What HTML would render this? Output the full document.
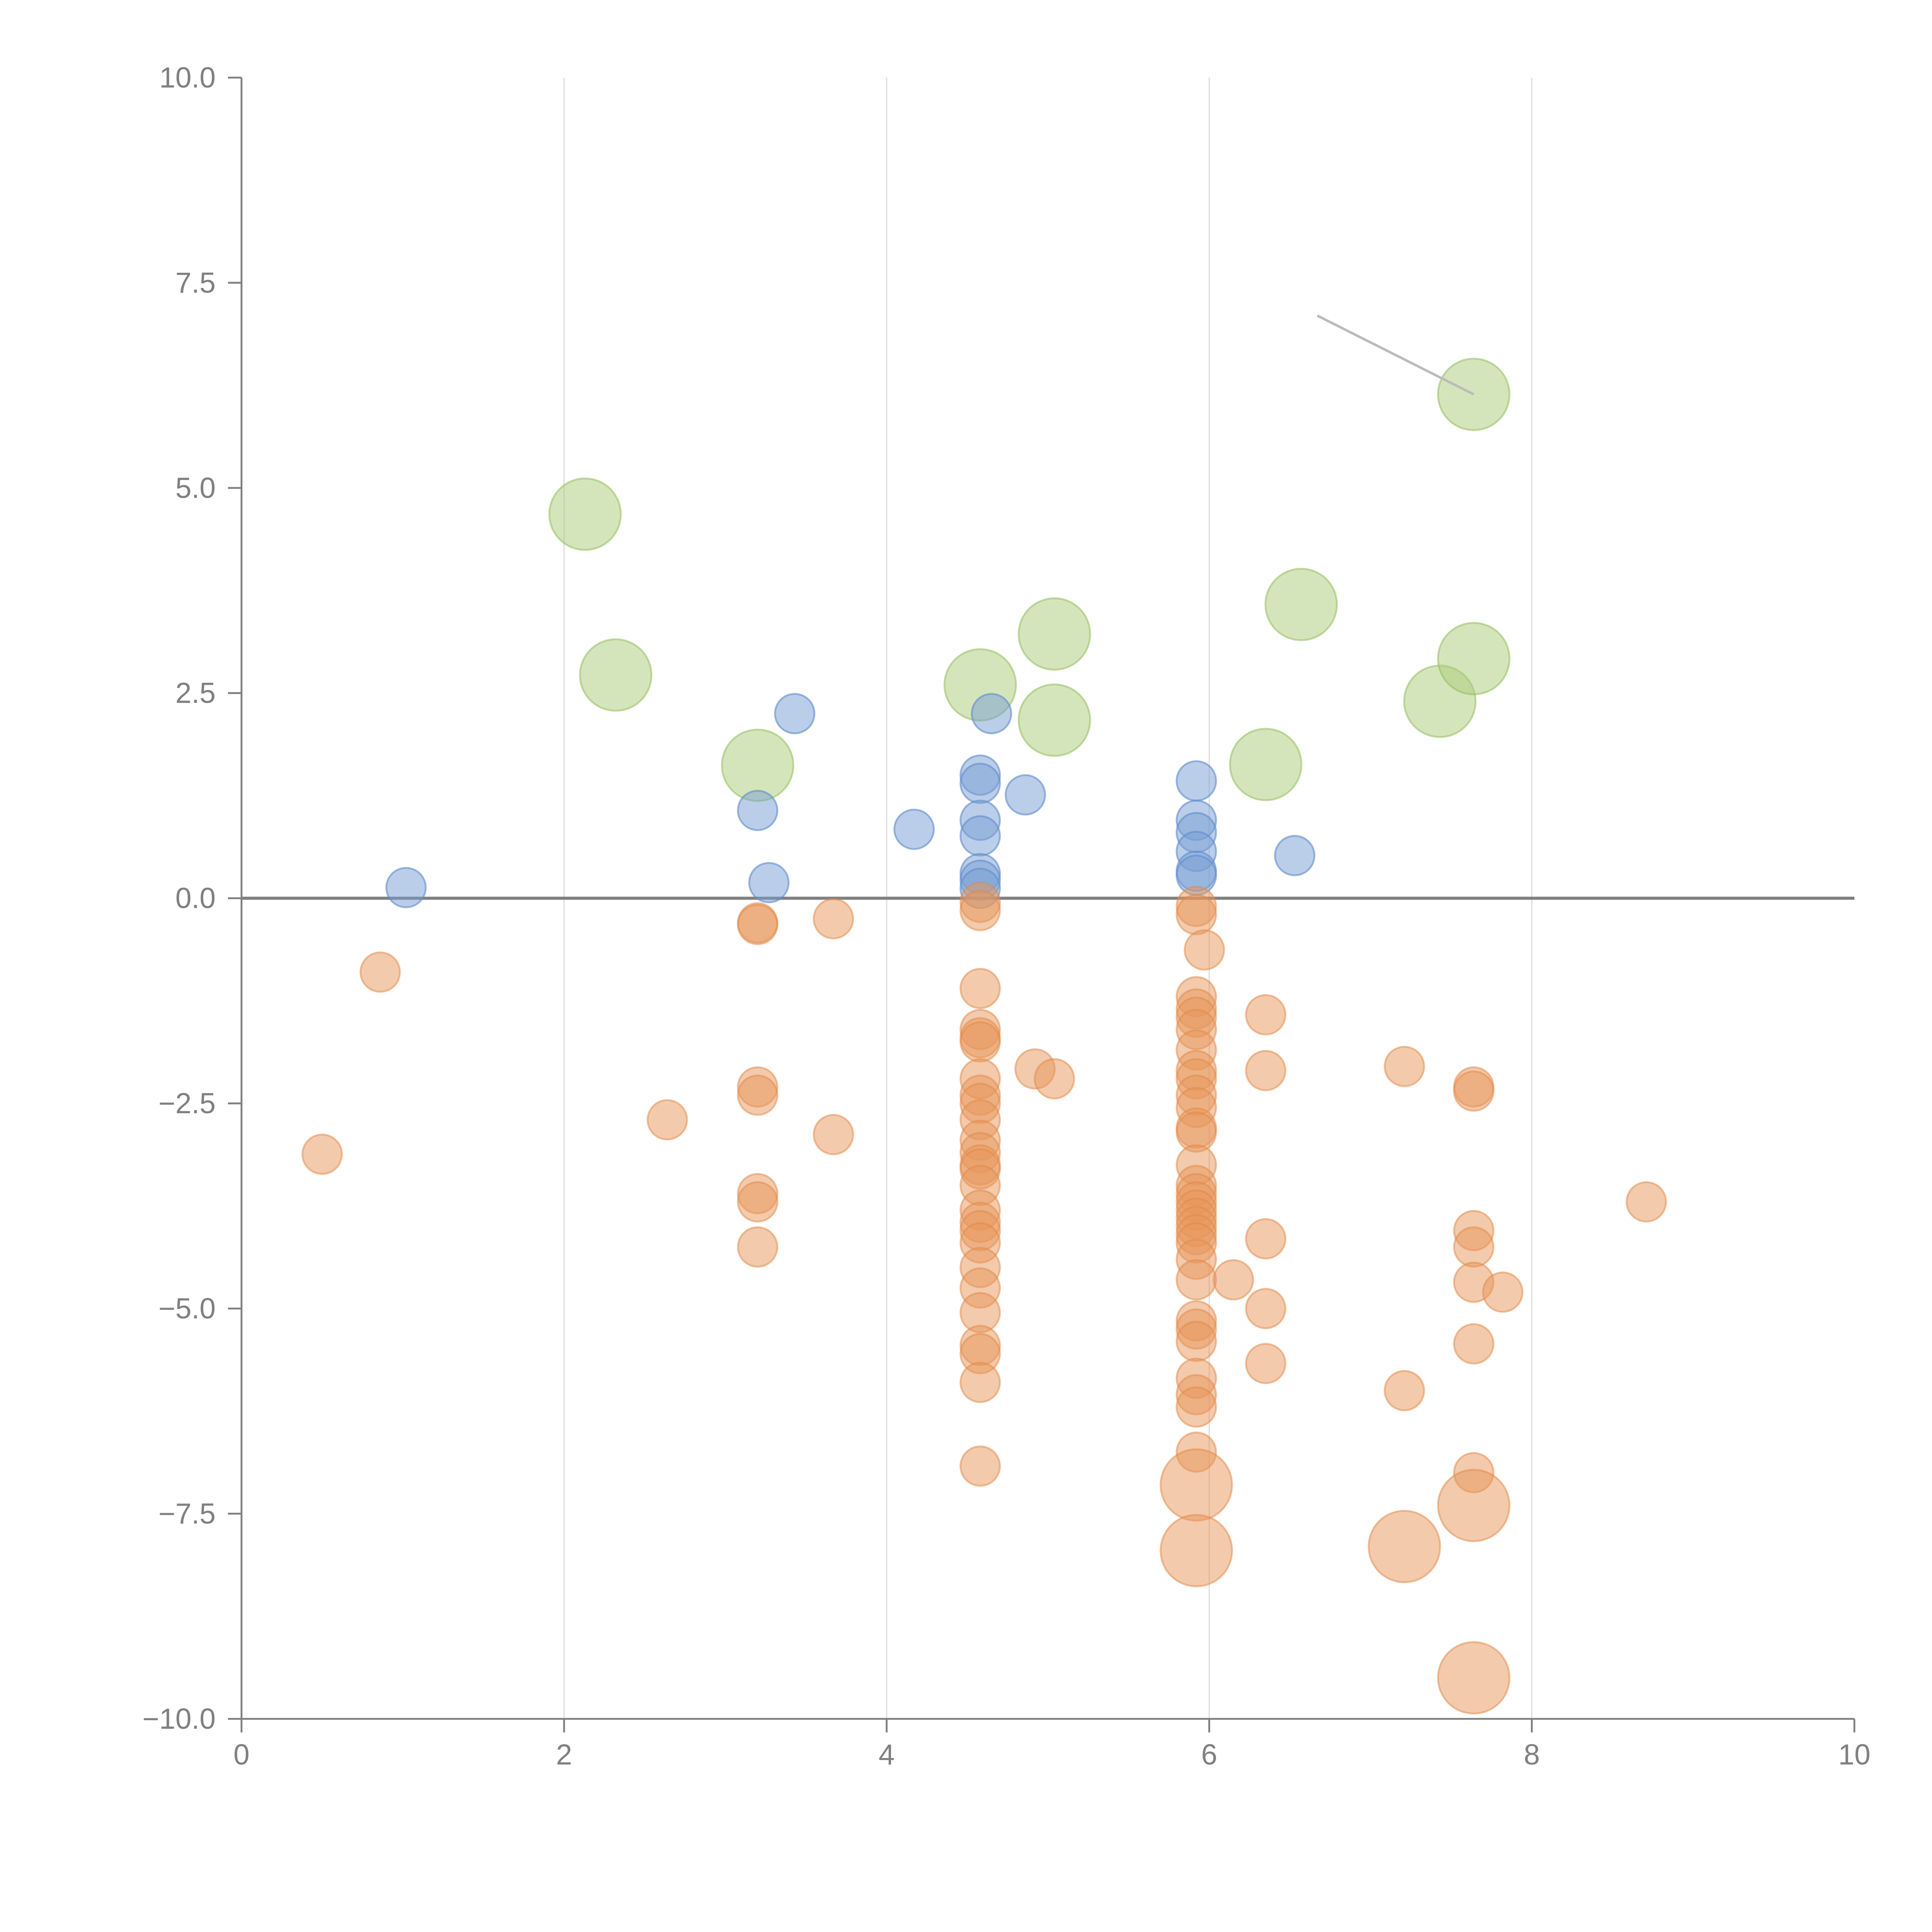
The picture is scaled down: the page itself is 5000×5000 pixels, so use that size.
<!DOCTYPE html>
<html><head><meta charset="utf-8"><style>
html,body{margin:0;padding:0;background:#fff;}
svg{display:block;}
text{font-family:"Liberation Sans",Arial,sans-serif;fill:#808080;}
</style></head><body>
<svg id="chart" width="5000" height="5000" viewBox="0 0 1568 1568" xmlns="http://www.w3.org/2000/svg">
<g id="grid"></g>
<g id="zero"></g>
<g id="marks"></g>
<g id="axes"></g>
</svg>
<script>
const xTicks = [0, 2, 4, 6, 8, 10];
const yTicks = [10, 7.5, 5, 2.5, 0, -2.5, -5, -7.5, -10];
const yTickLabels = ["10.0", "7.5", "5.0", "2.5", "0.0", "\u22122.5", "\u22125.0", "\u22127.5", "\u221210.0"];
const blueX = [1.02,3.2,3.27,3.43,4.17,4.58,4.58,4.58,4.58,4.58,4.58,4.58,4.65,4.86,5.92,5.92,5.92,5.92,5.92,5.92,6.53];
const blueY = [0.13,1.07,0.19,2.25,0.84,1.5,1.4,0.95,0.76,0.3,0.22,0.12,2.25,1.26,1.43,0.95,0.8,0.57,0.33,0.28,0.52];
const greenX = [2.13,2.32,3.2,4.58,5.04,5.04,6.35,6.57,7.43,7.64,7.64];
const greenY = [4.68,2.72,1.62,2.6,3.22,2.17,1.63,3.58,2.4,2.92,6.14];
const orangeX = [0.5,0.86,2.64,3.2,3.2,3.2,3.2,3.2,3.2,3.2,3.67,3.67,
 4.58,4.58,4.58,4.58,4.58,4.58,4.58,4.58,4.58,4.58,4.58,4.58,4.58,4.58,4.58,4.58,4.58,4.58,4.58,4.58,4.58,4.58,4.58,4.58,4.58,4.58,
 4.92,5.04,
 5.92,5.92,5.92,5.92,5.92,5.92,5.92,5.92,5.92,5.92,5.92,5.92,5.92,5.92,5.92,5.92,5.92,5.92,5.92,5.92,5.92,5.92,5.92,5.92,5.92,5.92,5.92,5.92,5.92,5.92,5.92,
 5.97,6.15,6.35,6.35,6.35,6.35,6.35,7.21,7.21,7.64,7.64,7.64,7.64,7.64,7.64,7.64,7.82,8.71];
const orangeY = [-3.12,-0.9,-2.7,-0.3,-0.32,-2.3,-2.4,-3.6,-3.7,-4.25,-0.25,-2.88,
 -0.05,-0.15,-1.1,-1.6,-1.7,-1.75,-2.2,-2.4,-2.5,-2.7,-2.95,-3.1,-3.25,-3.3,-3.5,-3.8,-3.95,-4.05,-4.2,-4.5,-4.75,-5.05,-5.45,-5.55,-5.9,-6.92,
 -2.08,-2.2,
 -0.1,-0.2,-1.2,-1.35,-1.45,-1.6,-1.85,-2.1,-2.2,-2.4,-2.55,-2.8,-2.85,-3.25,-3.5,-3.6,-3.7,-3.8,-3.9,-4.0,-4.1,-4.2,-4.4,-4.65,-5.15,-5.25,-5.4,-5.85,-6.05,-6.2,-6.75,
 -0.63,-4.65,-1.42,-2.1,-4.15,-5.0,-5.67,-2.05,-6.0,-2.3,-2.35,-4.05,-4.25,-4.68,-5.43,-7.0,-4.8,-3.7];
const orangeBigX = [5.92,5.92,7.21,7.64,7.64];
const orangeBigY = [-7.15,-7.95,-7.9,-7.4,-9.5];
const annotFrom = [6.67, 7.1];
const annotTo = [7.64, 6.14];

const X0=196, X1=1505, Y0=1395, Y1=63;
function sx(v){return X0+(v-0)/(10-0)*(X1-X0);}
function sy(v){return Y0-(v+10)/20*(Y0-Y1);}
const NS="http://www.w3.org/2000/svg";
function mk(tag,attrs,parent){const e=document.createElementNS(NS,tag);for(const k in attrs)e.setAttribute(k,attrs[k]);parent.appendChild(e);return e;}
const grid=document.getElementById('grid'),zero=document.getElementById('zero'),marks=document.getElementById('marks'),axes=document.getElementById('axes');

[2,4,6,8].forEach(v=>{
 const l=mk('line',{x1:sx(v),x2:sx(v),y1:Y1,y2:Y0,stroke:'#dddddd','stroke-width':1},grid);
 
 
});
const zl=mk('line',{x1:X0,x2:X1,y1:sy(0),y2:sy(0),stroke:'#808080','stroke-width':2.5},zero);



function dots(xs,ys,r,fill,stroke,name){
 xs.forEach((x,i)=>{
  const c=mk('circle',{cx:sx(x),cy:sy(ys[i]),r:r,fill:fill,stroke:stroke,'stroke-width':1.5},marks);
  
  
 });
}
dots(greenX,greenY,29,'rgba(172,204,120,0.5)','rgba(150,190,95,0.55)','green-bubble');
dots(blueX,blueY,16,'rgba(120,158,212,0.5)','rgba(95,140,205,0.6)','blue-point');
dots(orangeX,orangeY,16,'rgba(232,150,90,0.5)','rgba(225,135,70,0.5)','orange-point');
dots(orangeBigX,orangeBigY,29,'rgba(232,150,90,0.5)','rgba(225,135,70,0.5)','orange-bubble');

const an=mk('line',{x1:sx(annotFrom[0]),y1:sy(annotFrom[1]),x2:sx(annotTo[0]),y2:sy(annotTo[1]),stroke:'#bbbbbb','stroke-width':2},marks);



const ya=mk('line',{x1:X0,x2:X0,y1:Y1,y2:Y0,stroke:'#808080','stroke-width':1.5},axes);


const xa=mk('line',{x1:X0,x2:X1,y1:Y0,y2:Y0,stroke:'#808080','stroke-width':1.5},axes);


yTicks.forEach((v,i)=>{
 const t=mk('line',{x1:X0-11,x2:X0,y1:sy(v),y2:sy(v),stroke:'#808080','stroke-width':1.5},axes);
 
 
 const tx=mk('text',{x:X0-21,y:sy(v)+8,'text-anchor':'end','font-size':23.5},axes);
 tx.textContent=yTickLabels[i];
 
 
});
xTicks.forEach(v=>{
 const t=mk('line',{x1:sx(v),x2:sx(v),y1:Y0,y2:Y0+11,stroke:'#808080','stroke-width':1.5},axes);
 
 
 const tx=mk('text',{x:sx(v),y:Y0+37,'text-anchor':'middle','font-size':23.5},axes);
 tx.textContent=String(v);
 
 
});
</script>
</body></html>
